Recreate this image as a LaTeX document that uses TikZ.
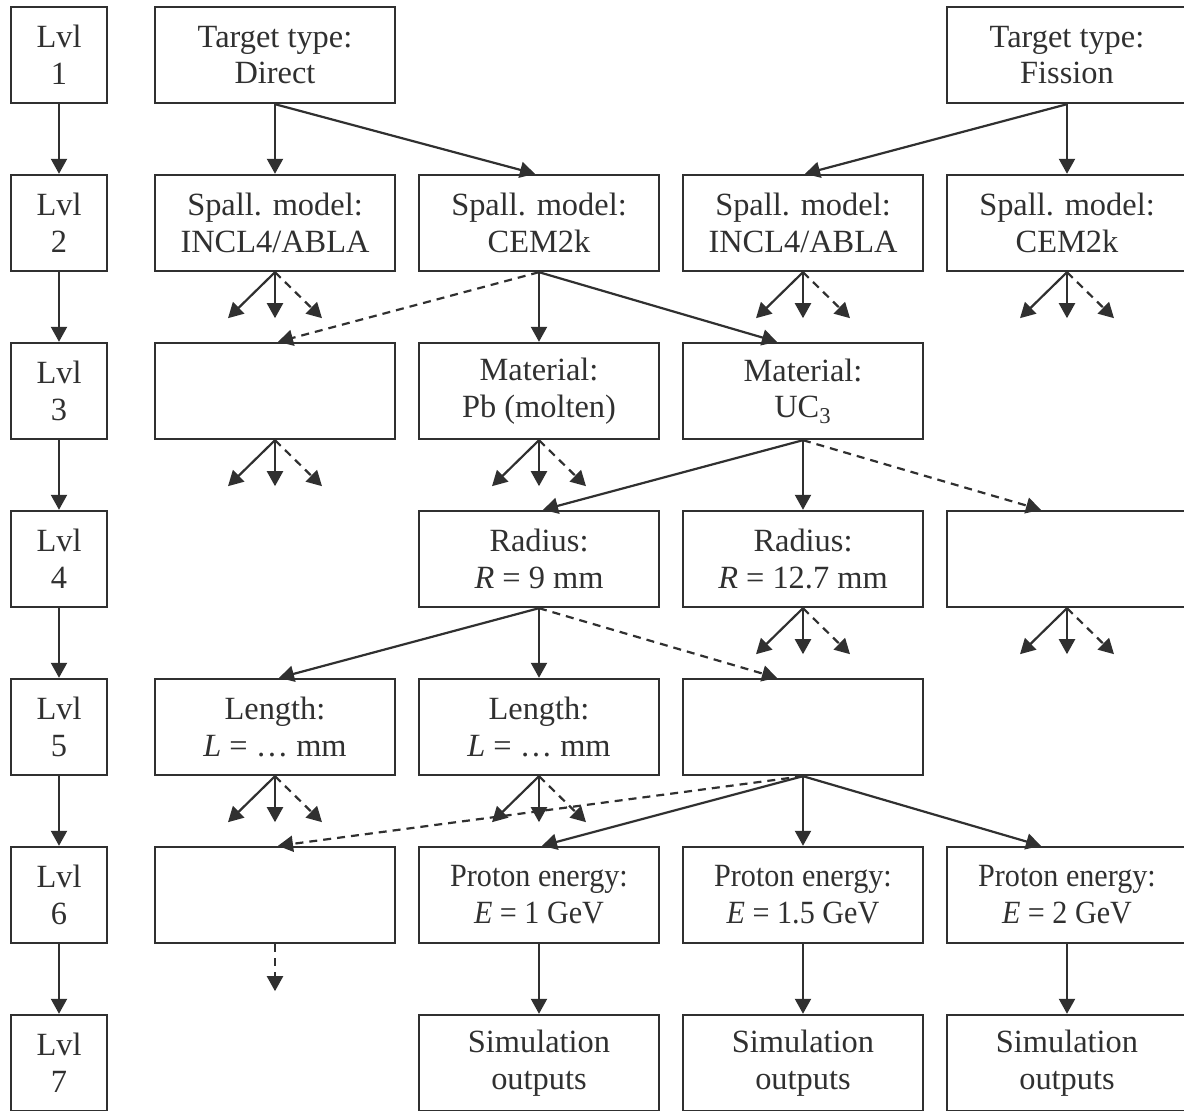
\documentclass[tikz,border=0pt]{standalone}
\usepackage{fontspec}
\setmainfont{Liberation Serif}
\newfontfamily\condensed[FakeStretch=0.93]{Liberation Serif}
\usetikzlibrary{arrows.meta,calc}
\definecolor{ink}{RGB}{48,48,48}
\newcommand\fanout[1]{%
  \path (#1.south) ++(-47,46) coordinate (#1-l);
  \path (#1.south) ++(0,46) coordinate (#1-m);
  \path (#1.south) ++(47,46) coordinate (#1-r);
  \draw[link] (#1.south) -- (#1-l);
  \draw[link] (#1.south) -- (#1-m);
  \draw[dlink] (#1.south) -- (#1-r);}
\begin{document}
\begin{tikzpicture}[x=0.5pt,y=-0.5pt,
  box/.style={draw=ink, line width=1.2pt, minimum width=120pt, minimum height=48pt,
    inner sep=0pt, align=center, text=ink, font=\fontsize{16.2}{18.4}\selectfont},
  lvl/.style={box, minimum width=48pt},
  link/.style={draw=ink, line width=1.1pt, -{Triangle[length=7.5pt,width=8pt]}},
  dlink/.style={link, dash pattern=on 4pt off 3pt},
]
\useasboundingbox (0,0) rectangle (1184,1111);
\clip (0,0) rectangle (1184,1111);

% level column
\foreach \i in {1,...,7}{
  \node[lvl] (lv\i) at (59,{55+168*(\i-1)}) {Lvl\\\i};
}
\foreach \i/\j in {1/2,2/3,3/4,4/5,5/6,6/7}{
  \draw[link] (lv\i.south) -- (lv\j.north);
}

% row 1
\node[box] (r1a) at (275,55) {Target type:\\Direct};
\node[box] (r1d) at (1067,55) {Target type:\\Fission};
% row 2
\node[box] (r2a) at (275,223) {Spall. model:\\INCL4/ABLA};
\node[box] (r2b) at (539,223) {Spall. model:\\CEM2k};
\node[box] (r2c) at (803,223) {Spall. model:\\INCL4/ABLA};
\node[box] (r2d) at (1067,223) {Spall. model:\\CEM2k};
% row 3
\node[box] (r3a) at (275,391) {};
\node[box] (r3b) at (539,391) {Material:\\Pb (molten)};
\node[box] (r3c) at (803,391) {Material:\\UC\textsubscript{3}};
% row 4
\node[box] (r4b) at (539,559) {Radius:\\\textit{R} = 9 mm};
\node[box] (r4c) at (803,559) {Radius:\\\textit{R} = 12.7 mm};
\node[box] (r4d) at (1067,559) {};
% row 5
\node[box] (r5a) at (275,727) {Length:\\\textit{L} = … mm};
\node[box] (r5b) at (539,727) {Length:\\\textit{L} = … mm};
\node[box] (r5c) at (803,727) {};
% row 6
\node[box] (r6a) at (275,895) {};
\node[box] (r6b) at (539,895) {\condensed Proton energy:\\\condensed\textit{E} = 1 GeV};
\node[box] (r6c) at (803,895) {\condensed Proton energy:\\\condensed\textit{E} = 1.5 GeV};
\node[box] (r6d) at (1067,895) {\condensed Proton energy:\\\condensed\textit{E} = 2 GeV};
% row 7
\node[box] (r7b) at (539,1063) {Simulation\\outputs};
\node[box] (r7c) at (803,1063) {Simulation\\outputs};
\node[box] (r7d) at (1067,1063) {Simulation\\outputs};

% row 1 -> row 2
\draw[link] (r1a.south) -- (r2a.north);
\draw[link] (r1a.south) -- ([xshift=-2pt]r2b.north);
\draw[link] (r1d.south) -- ([xshift=1pt]r2c.north);
\draw[link] (r1d.south) -- (r2d.north);
% row 2 -> row 3
\fanout{r2a}
\fanout{r2c}
\fanout{r2d}
\draw[dlink] (r2b.south) -- ([xshift=1.5pt]r3a.north);
\draw[link] (r2b.south) -- (r3b.north);
\draw[link] (r2b.south) -- ([xshift=-13pt]r3c.north);
% row 3 -> row 4
\fanout{r3a}
\fanout{r3b}
\draw[link] (r3c.south) -- ([xshift=2pt]r4b.north);
\draw[link] (r3c.south) -- (r4c.north);
\draw[dlink] (r3c.south) -- ([xshift=-13pt]r4d.north);
% row 4 -> row 5
\draw[link] (r4b.south) -- ([xshift=2pt]r5a.north);
\draw[link] (r4b.south) -- (r5b.north);
\draw[dlink] (r4b.south) -- ([xshift=-13pt]r5c.north);
\fanout{r4c}
\fanout{r4d}
% row 5 -> row 6
\fanout{r5a}
\fanout{r5b}
\draw[dlink] (r5c.south) -- ([xshift=1.5pt]r6a.north);
\draw[link] (r5c.south) -- ([xshift=1.5pt]r6b.north);
\draw[link] (r5c.south) -- (r6c.north);
\draw[link] (r5c.south) -- ([xshift=-13pt]r6d.north);
% row 6 -> row 7
\path (r6a.south) ++(0,47) coordinate (r6a-m);
\draw[dlink] (r6a.south) -- (r6a-m);
\draw[link] (r6b.south) -- (r7b.north);
\draw[link] (r6c.south) -- (r7c.north);
\draw[link] (r6d.south) -- (r7d.north);
\end{tikzpicture}
\end{document}
